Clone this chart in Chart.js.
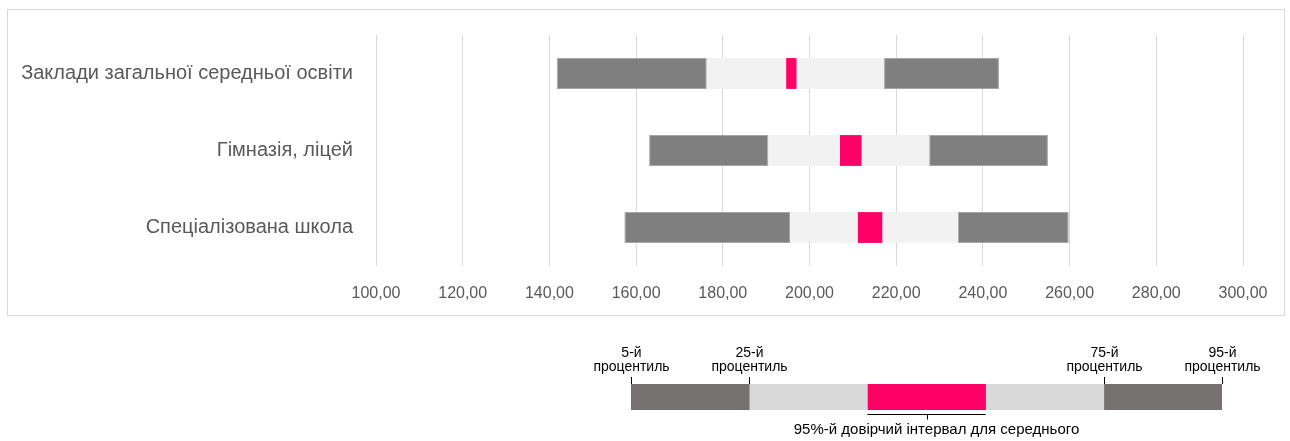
<!DOCTYPE html>
<html>
<head>
<meta charset="utf-8">
<script src="https://cdn.jsdelivr.net/npm/chart.js@4"></script>
<style>
  html, body { margin: 0; padding: 0; background: #fff; }
  body { width: 1290px; height: 441px; position: relative; overflow: hidden; }
  #frame {
    position: absolute; left: 7px; top: 9px;
    width: 1276px; height: 305px;
    border: 1px solid #d9d9d9;
  }
  #mainWrap { position: absolute; left: 0; top: 0; width: 1290px; height: 330px; }
  #keyWrap { position: absolute; left: 560px; top: 330px; width: 730px; height: 111px; }
</style>
</head>
<body>
<div id="frame"></div>
<div id="mainWrap"><canvas id="mainChart"></canvas></div>
<div id="keyWrap"><canvas id="keyChart"></canvas></div>
<script>
const categories = [
  "Заклади загальної середньої освіти",
  "Гімназія, ліцей",
  "Спеціалізована школа",
];
const p5 = [141.7, 163.0, 157.3];
const p25 = [176.3, 190.5, 195.5];
const ciLow = [194.6, 207.0, 211.1];
const ciHigh = [197.0, 212.0, 216.8];
const p75 = [217.2, 227.6, 234.2];
const p95 = [243.7, 255.0, 259.8];

const axisMin = 100;
const axisMax = 300;
const axisStep = 20;

// key below the chart
const keySegments = [[0, 1], [1, 2], [2, 3], [3, 4], [4, 5]];
const keyTicks = [0, 1, 4, 5];
const keyTickLabels = ["5-й", "25-й", "75-й", "95-й"];
const keyTickSub = "процентиль";
const keyCiLabel = "95%-й довірчий інтервал для середнього";

const FONT = "'Liberation Sans Narrow', 'Arial Narrow', 'Liberation Sans', Arial, sans-serif";
const DARK = "#7f7f7f";
const LIGHT = "#f2f2f2";
const PINK = "#ff0066";

function range(a, b) {
  return a.map((v, i) => [v, b[i]]);
}

function segment(label, data, color, border) {
  return {
    label: label,
    data: data,
    backgroundColor: color,
    borderColor: border || color,
    borderWidth: border ? 1 : 0,
    borderSkipped: false,
    grouped: false,
    categoryPercentage: 1,
    barPercentage: 0.4,
  };
}

new Chart(document.getElementById("mainChart"), {
  type: "bar",
  data: {
    labels: categories,
    datasets: [
      segment("5-25", range(p5, p25), DARK, "#a6a6a6"),
      segment("25-ci", range(p25, ciLow), LIGHT),
      segment("ci", range(ciLow, ciHigh), PINK),
      segment("ci-75", range(ciHigh, p75), LIGHT),
      segment("75-95", range(p75, p95), DARK, "#a6a6a6"),
    ],
  },
  options: {
    indexAxis: "y",
    responsive: true,
    maintainAspectRatio: false,
    animation: false,
    layout: { padding: { top: 32, right: 47, left: 0, bottom: 0 } },
    plugins: {
      legend: { display: false },
      tooltip: { enabled: false },
    },
    scales: {
      x: {
        min: axisMin,
        max: axisMax,
        afterFit: (scale) => { scale.height = 64; },
        border: { display: false },
        grid: { color: "#d9d9d9", lineWidth: 1, drawTicks: false },
        ticks: {
          stepSize: axisStep,
          padding: 18,
          color: "#595959",
          font: { family: FONT, size: 16 },
          callback: (value) => value.toFixed(2).replace(".", ","),
        },
      },
      y: {
        afterFit: (scale) => { scale.width = 376; },
        border: { display: false },
        grid: { display: false, drawTicks: false },
        ticks: {
          padding: 23,
          color: "#595959",
          font: { family: FONT, size: 20 },
        },
      },
    },
  },
});

const keyAnnotations = {
  id: "keyAnnotations",
  afterDatasetsDraw(chart) {
    const ctx = chart.ctx;
    const x = chart.scales.x;
    const top = chart.chartArea.top;
    const bottom = chart.chartArea.bottom;
    ctx.save();
    ctx.strokeStyle = "#000";
    ctx.fillStyle = "#000";
    ctx.lineWidth = 1;
    ctx.textAlign = "center";
    ctx.textBaseline = "middle";
    ctx.font = "14px " + FONT;
    keyTicks.forEach((v, i) => {
      const px = Math.round(x.getPixelForValue(v)) + 0.5;
      ctx.beginPath();
      ctx.moveTo(px, top - 7);
      ctx.lineTo(px, top);
      ctx.stroke();
      ctx.fillText(keyTickLabels[i], px, top - 31);
      ctx.fillText(keyTickSub, px, top - 17);
    });
    const a = x.getPixelForValue(keySegments[2][0]);
    const b = x.getPixelForValue(keySegments[2][1]);
    const y = bottom + 4.5;
    const mid = Math.round((a + b) / 2) + 0.5;
    ctx.beginPath();
    ctx.moveTo(a, y);
    ctx.lineTo(b, y);
    ctx.moveTo(mid, y);
    ctx.lineTo(mid, y + 5);
    ctx.stroke();
    ctx.font = "15px " + FONT;
    ctx.fillText(keyCiLabel, mid + 9, bottom + 20);
    ctx.restore();
  },
};

const keyColors = ["#767171", "#d9d9d9", PINK, "#d9d9d9", "#767171"];

new Chart(document.getElementById("keyChart"), {
  type: "bar",
  data: {
    labels: [""],
    datasets: keySegments.map((s, i) => ({
      data: [s],
      backgroundColor: keyColors[i],
      borderWidth: 0,
      grouped: false,
      categoryPercentage: 1,
      barPercentage: 1,
    })),
  },
  options: {
    indexAxis: "y",
    responsive: true,
    maintainAspectRatio: false,
    animation: false,
    layout: { padding: { top: 54, bottom: 31, left: 71, right: 68 } },
    plugins: {
      legend: { display: false },
      tooltip: { enabled: false },
    },
    scales: {
      x: { display: false, min: 0, max: 5 },
      y: { display: false },
    },
  },
  plugins: [keyAnnotations],
});
</script>
</body>
</html>
